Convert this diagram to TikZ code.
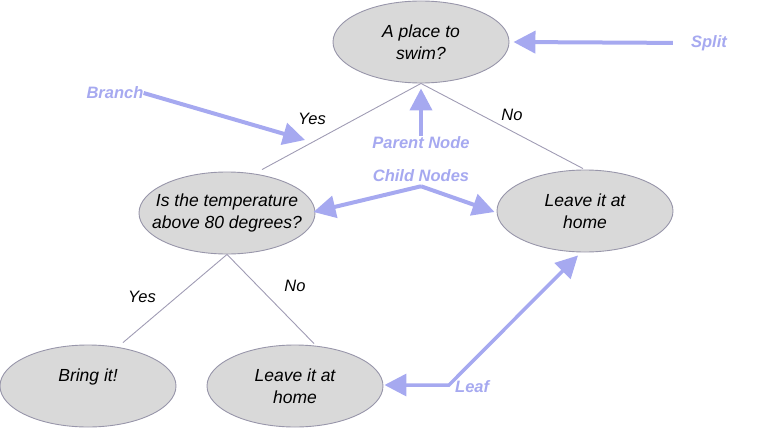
\documentclass[tikz,border=0pt]{standalone}
\usepackage{fontspec}
\setmainfont{Liberation Sans}
\usetikzlibrary{shapes.geometric,arrows.meta,calc}
\definecolor{nodefill}{RGB}{217,217,217}
\definecolor{nodeline}{RGB}{152,150,170}
\definecolor{branchline}{RGB}{160,156,180}
\definecolor{annot}{RGB}{166,169,240}
\tikzset{
  treenode/.style={ellipse, draw=nodeline, fill=nodefill, line width=0.9pt,
    minimum width=176pt, minimum height=82pt, inner xsep=-18pt, inner ysep=-10pt, align=center,
    font=\fontsize{17.5}{21.5}\selectfont\itshape},
  edge/.style={draw=branchline, line width=0.9pt},
  edgelabel/.style={font=\fontsize{16.5}{20}\selectfont\itshape, inner sep=0pt},
  annotlabel/.style={text=annot, font=\fontsize{16.5}{20}\selectfont\bfseries\itshape, inner sep=0pt},
  annotarrow/.style={draw=annot, line width=4pt, -{Triangle[length=22pt,width=22pt]}},
}
\begin{document}
\begin{tikzpicture}[x=1pt,y=-1pt]
\useasboundingbox (0,0) rectangle (768,428);
% nodes
\node[treenode] (root) at (421,42) {A place to\\swim?};
\node[treenode] (temp) at (227,213) {Is the temperature\\above 80 degrees?};
\node[treenode] (right) at (585,211) {Leave it at\\home};
\node[treenode] (bring) at (88,386) {Bring it!\\\mbox{}};
\node[treenode] (leave) at (295,386) {Leave it at\\home};
% branches
\draw[edge] (root.south) -- ($(temp.north)+(35,-2)$);
\draw[edge] (root.south) -- ($(right.north)+(-2,-1)$);
\draw[edge] (temp.south) -- ($(bring.north)+(35,-2)$);
\draw[edge] (temp.south) -- ($(leave.north)+(19,-1)$);
% branch labels
\node[edgelabel] (y1) at (312,119) {Yes};
\node[edgelabel] (n1) at (512,115) {No};
\node[edgelabel] (y2) at (142,297) {Yes};
\node[edgelabel] (n2) at (295,286) {No};
% annotations
\node[annotlabel] (split) at (709,43) {Split};
\node[annotlabel] (branch) at (115,93) {Branch};
\node[annotlabel] (parent) at (421,143) {Parent Node};
\node[annotlabel] (child) at (421,176) {Child Nodes};
\node[annotlabel, anchor=west] (leaf) at (455,387) {Leaf};
\coordinate (branchtip) at (305,140);
\coordinate (leafcorner) at (449,385);
\draw[annotarrow, shorten <=18pt] (split.west) -- ($(root.east)+(4,0)$);
\draw[annotarrow] (branch.east) -- (branchtip);
\draw[annotarrow] ($(parent.north)+(0,-1)$) -- ($(root.south)+(0,5)$);
\draw[annotarrow] ($(child.south)+(0,4)$) -- ($(temp.east)+(-2,-1)$);
\draw[annotarrow] ($(child.south)+(0,4)$) -- ($(right.west)+(-2,1)$);
\draw[draw=annot, line width=3.5pt, {Triangle[length=22pt,width=22pt]}-{Triangle[length=22pt,width=22pt]}]
  ($(leave.east)+(1,-1)$) -- (leafcorner) -- ($(right.south)+(-7,3)$);
\end{tikzpicture}
\end{document}
